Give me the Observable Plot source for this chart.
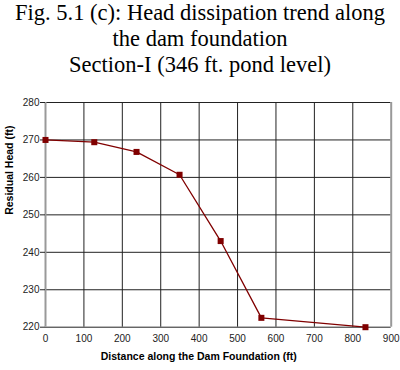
<!DOCTYPE html>
<html>
<head>
<meta charset="utf-8">
<script src="https://cdn.jsdelivr.net/npm/d3@7"></script>
<script src="https://cdn.jsdelivr.net/npm/@observablehq/plot@0.6"></script>
<style>
  html, body { margin: 0; padding: 0; background: #fff; }
  #title { width: 400px; height: 78px; text-align: center; font-family: "Liberation Serif", "Times New Roman", serif; font-size: 22.5px; line-height: 26px; color: #000; }
  #chart svg { display: block; }
</style>
</head>
<body>
<div id="title">Fig. 5.1 (c): Head dissipation trend along<br>the dam foundation<br>Section-I (346 ft. pond level)</div>
<div id="chart"></div>
<script>
const distance = [0, 127, 237, 349, 456, 562, 833];
const head = [270, 269.4, 266.8, 260.7, 243.0, 222.5, 220.0];
const xTicks = [0, 100, 200, 300, 400, 500, 600, 700, 800, 900];
const yTicks = [220, 230, 240, 250, 260, 270, 280];
const xLabel = "Distance along the Dam Foundation (ft)";
const yLabel = "Residual Head (ft)";

const data = distance.map((d, i) => ({x: d, y: head[i]}));

const chart = Plot.plot({
  width: 400,
  height: 292,
  marginTop: 24,
  marginBottom: 43.3,
  marginLeft: 45,
  marginRight: 9.3,
  style: {fontFamily: "'Liberation Sans', Arial, sans-serif", fontSize: "10px", color: "#222", background: "#fff"},
  x: {domain: [0, 900], ticks: xTicks},
  y: {domain: [220, 280], ticks: yTicks},
  marks: [
    Plot.ruleY(yTicks, {stroke: "#222", strokeWidth: 1, strokeOpacity: 1}),
    Plot.ruleX(xTicks.filter(t => t > 0 && t < 900), {stroke: "#222", strokeWidth: 1}),
    Plot.ruleX([0, 900], {stroke: "#999", strokeWidth: 2}),
    Plot.axisX({ticks: xTicks, tickSize: 0, tickPadding: 8, label: null, fontSize: 10}),
    Plot.axisY({ticks: yTicks, tickSize: 5, tickPadding: 1, label: null, fontSize: 10, stroke: "#222"}),
    Plot.line(data, {x: "x", y: "y", stroke: "#800000", strokeWidth: 1.3}),
    Plot.dot(data, {x: "x", y: "y", symbol: "square", r: 3.4, fill: "#800000", stroke: "none"}),
    Plot.text([xLabel], {frameAnchor: "bottom", dy: 33, dx: -19.6, fontWeight: "bold", fontSize: 10.5, fill: "#000"}),
    Plot.text([yLabel], {frameAnchor: "left", dx: -36, rotate: -90, fontWeight: "bold", fontSize: 10.5, fill: "#000"})
  ]
});
document.getElementById("chart").appendChild(chart);
</script>
</body>
</html>
